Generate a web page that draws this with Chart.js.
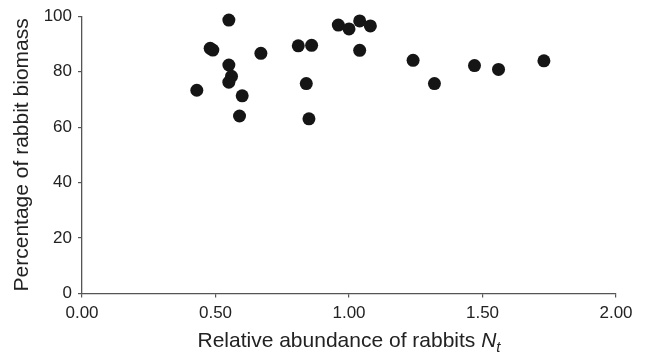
<!DOCTYPE html>
<html>
<head>
<meta charset="utf-8">
<script src="https://cdn.jsdelivr.net/npm/chart.js@4"></script>
<style>
  html, body { margin: 0; padding: 0; background: #fff; }
  #wrap { width: 648px; height: 355px; }
</style>
</head>
<body>
<div id="wrap"><canvas id="myChart" width="648" height="355"></canvas></div>
<script>
// relative abundance of rabbits (x) and percentage of rabbit biomass (y)
const abundance = [0.43, 0.48, 0.49, 0.55, 0.55, 0.56, 0.55, 0.60, 0.59, 0.67, 0.81, 0.86,
                   0.84, 0.85, 0.96, 1.00, 1.04, 1.08, 1.04, 1.24, 1.32, 1.47, 1.56, 1.73];
const biomass = [73.3, 88.4, 87.8, 98.6, 82.4, 78.3, 76.2, 71.3, 64.0, 86.6, 89.3, 89.5,
                 75.7, 63.0, 96.8, 95.4, 98.3, 96.5, 87.7, 84.1, 75.7, 82.2, 80.8, 83.9];
const xTicks = [0, 0.5, 1, 1.5, 2];
const yTicks = [0, 20, 40, 60, 80, 100];

const fontFamily = "'Liberation Sans', Arial, sans-serif";
const axisColor = '#555';

// x axis title has an italic N with subscript t, so draw it by hand
const xTitlePlugin = {
    id: 'xTitle',
    afterDraw(chart) {
        const ctx = chart.ctx;
        const area = chart.chartArea;
        const base = 'Relative abundance of rabbits ';
        ctx.save();
        ctx.fillStyle = '#222';
        ctx.textBaseline = 'alphabetic';
        ctx.font = '21px ' + fontFamily;
        const w1 = ctx.measureText(base).width;
        ctx.font = 'italic 21px ' + fontFamily;
        const w2 = ctx.measureText('N').width;
        ctx.font = 'italic 15px ' + fontFamily;
        const w3 = ctx.measureText('t').width;
        let x = (area.left + area.right) / 2 - (w1 + w2 + w3) / 2;
        const y = 347;
        ctx.font = '21px ' + fontFamily;
        ctx.fillText(base, x, y);
        x += w1;
        ctx.font = 'italic 21px ' + fontFamily;
        ctx.fillText('N', x, y);
        x += w2;
        ctx.font = 'italic 15px ' + fontFamily;
        ctx.fillText('t', x, y + 5);
        ctx.restore();
    }
};

const points = abundance.map((v, i) => ({ x: v, y: biomass[i] }));

const ctx = document.getElementById('myChart').getContext('2d');
const myChart = new Chart(ctx, {
    type: 'scatter',
    data: {
        datasets: [{
            data: points,
            backgroundColor: '#151515',
            borderColor: '#151515',
            borderWidth: 0,
            pointRadius: 6.5,
            pointHoverRadius: 6.5,
            clip: false
        }]
    },
    options: {
        responsive: false,
        animation: false,
        layout: { padding: { top: 15.5, right: 32, left: 0, bottom: 0 } },
        plugins: {
            legend: { display: false },
            tooltip: { enabled: false }
        },
        scales: {
            x: {
                type: 'linear',
                min: 0,
                max: 2,
                afterBuildTicks: s => { s.ticks = xTicks.map(v => ({ value: v })); },
                afterFit: s => { s.height = 61.5; },
                border: { display: true, color: axisColor, width: 1.3 },
                grid: { display: true, drawOnChartArea: false, drawTicks: true, tickLength: 4, color: axisColor, lineWidth: 1.2 },
                ticks: {
                    color: '#222',
                    padding: 6,
                    font: { family: fontFamily, size: 17 },
                    callback: v => Number(v).toFixed(2)
                }
            },
            y: {
                type: 'linear',
                min: 0,
                max: 100,
                afterBuildTicks: s => { s.ticks = yTicks.map(v => ({ value: v })); },
                afterFit: s => { s.width = 82; },
                border: { display: true, color: axisColor, width: 1.3 },
                grid: { display: true, drawOnChartArea: false, drawTicks: true, tickLength: 4, color: axisColor, lineWidth: 1.2 },
                ticks: {
                    color: '#222',
                    padding: 6,
                    font: { family: fontFamily, size: 17 }
                },
                title: {
                    display: true,
                    text: 'Percentage of rabbit biomass',
                    color: '#222',
                    font: { family: fontFamily, size: 21 },
                    padding: { top: 9.5, bottom: 0 }
                }
            }
        }
    },
    plugins: [xTitlePlugin]
});
</script>
</body>
</html>
